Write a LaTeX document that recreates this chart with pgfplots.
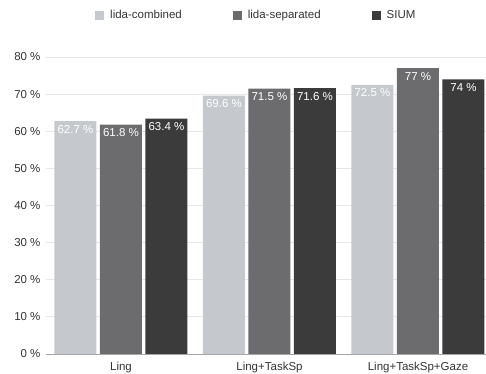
\documentclass[border=0pt]{standalone}
\usepackage{pgfplots}
\pgfplotsset{compat=1.18}
\usepackage{fontspec}
\setmainfont{Liberation Sans}
\definecolor{cA}{HTML}{C5C8CD}
\definecolor{cB}{HTML}{6C6C6F}
\definecolor{cC}{HTML}{3B3B3B}
\definecolor{gridc}{HTML}{E6E6E6}
\definecolor{txt}{HTML}{333333}
\begin{document}
\begin{tikzpicture}
\begin{axis}[
  at={(0,0)}, anchor=south west,
  scale only axis,
  width=440bp, height=297bp,
  ybar=3.5bp, bar width=42bp,
  xmin=-0.505, xmax=2.458,
  ymin=0, ymax=80,
  ytick={0,10,...,80},
  yticklabel={\pgfmathprintnumber{\tick}\ \%},
  xtick=data,
  xticklabels={Ling, Ling+TaskSp, Ling+TaskSp+Gaze},
  /pgf/number format/assume math mode=true,
  tick style={draw=none},
  ymajorgrids, grid style={draw=gridc, line width=0.8pt},
  axis x line*=bottom, axis y line*=left,
  x axis line style={draw=gray!70, line width=0.8pt, -},
  y axis line style={draw=none},
  separate axis lines,
  ticklabel style={font=\fontsize{11.5bp}{13bp}\selectfont, text=txt},
  yticklabel style={xshift=-2bp},
  nodes near coords={\pgfmathprintnumber{\pgfplotspointmeta}\ \%},
  nodes near coords style={anchor=north, font=\fontsize{11.5bp}{13bp}\selectfont, text=white, yshift=-0.5bp, /pgf/number format/assume math mode=true},
  legend style={at={(0.478,1.14)}, anchor=center, draw=none, fill=none,
    legend columns=3, font=\fontsize{11.5bp}{13bp}\selectfont, text=txt,
    /tikz/every odd column/.append style={column sep=4bp},
    /tikz/every even column/.append style={column sep=49bp}},
  legend image code/.code={\fill[#1, draw=none] (0bp,-4.5bp) rectangle (9bp,4.5bp);},
]
\addplot[fill=cA, draw=none] coordinates {(0,62.7) (1,69.6) (2,72.5)};
\addplot[fill=cB, draw=none] coordinates {(0,61.8) (1,71.5) (2,77)};
\addplot[fill=cC, draw=none] coordinates {(0,63.4) (1,71.6) (2,74)};
\legend{lida-combined, lida-separated, SIUM}
\end{axis}
\pgfresetboundingbox
\path[use as bounding box] (-46bp,-20bp) rectangle (440bp,354bp);
\end{tikzpicture}
\end{document}
